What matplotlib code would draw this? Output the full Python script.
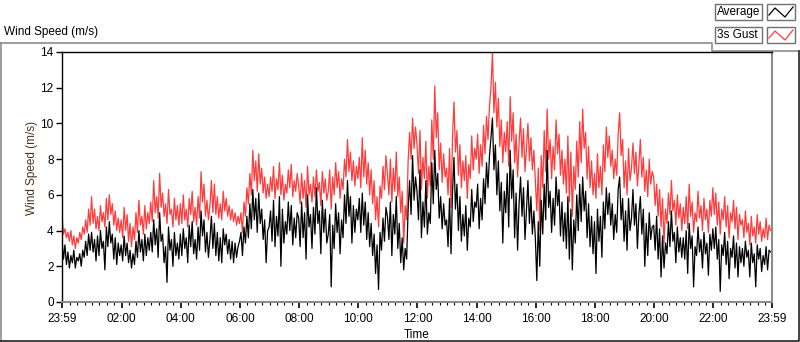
import numpy as np
import matplotlib
matplotlib.use("Agg")
import matplotlib.pyplot as plt
from matplotlib.lines import Line2D
from matplotlib.patches import Rectangle

# wind log, one sample every 3 minutes starting 23:59, 20 samples per hour
gust = [
    4.9, 3.8, 4.1, 3.6, 3.9, 3.4, 4.0, 3.2, 3.7, 3.0, 3.6, 3.3, 3.9, 3.5, 4.2, 3.8, 4.6, 3.9, 5.2, 4.3,
    5.9, 4.4, 5.2, 4.1, 4.8, 4.0, 5.4, 4.5, 5.0, 4.2, 5.8, 4.6, 6.0, 4.9, 5.5, 4.3, 5.1, 4.0, 4.7, 3.9,
    4.6, 3.6, 5.3, 4.0, 4.9, 3.4, 4.4, 3.1, 4.2, 3.5, 5.0, 3.9, 5.7, 4.3, 4.8, 3.8, 5.4, 4.1, 5.0, 4.4,
    5.6, 4.5, 6.8, 5.0, 5.9, 4.7, 7.2, 5.3, 6.1, 4.8, 5.5, 4.4, 6.3, 4.9, 5.2, 4.2, 5.8, 4.6, 5.4, 4.3,
    5.5, 4.4, 6.0, 4.6, 5.2, 4.2, 5.8, 4.9, 6.2, 4.5, 5.3, 4.3, 5.9, 4.7, 7.3, 5.6, 6.6, 4.8, 5.7, 4.6,
    5.4, 6.8, 5.0, 6.6, 4.9, 5.9, 4.7, 5.5, 4.6, 6.2, 5.1, 5.8, 4.8, 5.4, 4.6, 5.2, 4.5, 5.0, 4.3, 4.8,
    4.4, 5.0, 3.9, 5.6, 4.8, 6.4, 5.5, 7.2, 6.0, 8.5, 6.8, 7.9, 6.2, 8.3, 6.6, 7.5, 6.1, 7.0, 5.8, 6.6,
    5.9, 7.0, 6.2, 7.6, 5.8, 6.9, 6.3, 7.8, 6.0, 7.1, 5.7, 6.6, 6.1, 7.4, 6.4, 7.7, 5.9, 6.8, 6.2, 7.2,
    6.5, 5.5, 7.2, 5.8, 6.8, 5.3, 7.6, 6.0, 6.6, 5.6, 7.0, 5.9, 7.4, 6.2, 6.7, 5.4, 7.3, 6.1, 6.9, 5.7,
    6.2, 7.4, 5.2, 7.0, 6.0, 7.8, 6.4, 7.3, 5.8, 6.9, 6.3, 8.0, 7.0, 9.1, 7.3, 8.4, 6.8, 7.9, 6.5, 7.6,
    6.9, 8.1, 6.4, 9.2, 7.0, 8.5, 6.6, 7.8, 6.0, 7.4, 5.5, 6.8, 4.6, 5.9, 4.2, 6.5, 5.8, 7.6, 6.3, 8.2,
    7.2, 6.0, 8.0, 5.6, 7.5, 6.2, 8.4, 5.9, 7.0, 5.0, 6.2, 3.3, 5.4, 4.6, 7.9, 9.5, 8.0, 10.3, 8.6, 9.8,
    8.8, 7.2, 9.6, 6.3, 8.1, 6.9, 9.0, 5.8, 7.6, 6.5, 10.2, 8.0, 12.1, 9.2, 10.6, 7.4, 8.9, 6.7, 8.3, 7.0,
    7.5, 6.0, 8.6, 5.3, 9.2, 11.2, 8.4, 9.6, 7.1, 8.8, 6.4, 7.9, 6.8, 8.2, 5.8, 7.7, 6.9, 9.3, 7.4, 8.6,
    8.0, 9.4, 7.2, 8.8, 7.6, 9.9, 8.3, 10.4, 9.1, 11.0, 12.0, 14.0, 10.6, 12.3, 9.8, 11.4, 8.7, 10.2, 7.8, 9.5,
    8.4, 10.1, 7.6, 11.5, 9.0, 10.6, 7.8, 9.4, 7.0, 8.9, 10.3, 8.1, 9.7, 7.3, 8.6, 10.0, 7.9, 9.2, 7.4, 8.5,
    6.8, 5.1, 7.5, 4.0, 8.2, 6.4, 9.6, 7.3, 10.8, 8.0, 9.1, 6.9, 8.7, 7.4, 10.2, 8.3, 9.4, 7.1, 8.5, 6.6,
    8.0, 6.1, 9.3, 5.6, 8.4, 4.8, 7.6, 6.3, 9.0, 7.0, 10.1, 7.8, 10.8, 8.6, 9.5, 6.9, 8.7, 6.4, 7.9, 6.0,
    7.2, 5.8, 8.3, 6.4, 7.6, 6.0, 8.8, 7.3, 9.8, 8.1, 9.3, 7.6, 8.5, 6.9, 8.0, 7.1, 9.4, 10.6, 8.2, 9.1,
    6.4, 7.9, 6.0, 8.6, 6.8, 7.5, 8.9, 7.2, 8.4, 6.5, 7.7, 9.1, 7.0, 8.1, 6.2, 7.4, 5.9, 8.0, 6.6, 7.3,
    7.0, 5.4, 6.6, 4.8, 6.3, 4.2, 5.8, 3.3, 5.2, 4.4, 6.1, 4.9, 6.8, 5.1, 5.7, 4.3, 6.0, 4.7, 5.5, 4.0,
    5.3, 4.4, 5.9, 4.1, 6.6, 4.8, 5.6, 3.9, 5.0, 4.5, 6.2, 4.7, 5.4, 4.0, 5.8, 4.6, 5.2, 3.9, 5.7, 4.8,
    6.4, 4.9, 6.1, 4.3, 5.6, 3.8, 5.2, 4.6, 5.9, 4.2, 5.4, 3.6, 5.0, 4.5, 5.7, 4.1, 5.3, 3.5, 4.9, 4.3,
    4.6, 3.6, 5.1, 3.9, 4.4, 3.2, 4.8, 3.7, 4.2, 3.3, 4.9, 3.8, 4.5, 3.4, 4.1, 3.6, 4.7, 3.5, 4.3, 4.0,
]

average = [
    3.5, 2.4, 3.2, 2.1, 2.8, 1.9, 2.6, 2.2, 2.9, 1.9, 2.5, 2.3, 2.7, 2.0, 2.9, 2.5, 3.4, 2.6, 3.8, 2.9,
    3.9, 2.8, 3.5, 2.3, 3.7, 2.6, 4.0, 3.0, 3.4, 1.8, 4.2, 3.1, 4.5, 3.3, 3.8, 2.4, 3.6, 2.1, 3.3, 2.6,
    3.2, 2.3, 3.7, 2.6, 3.3, 2.2, 2.9, 1.9, 2.7, 2.1, 3.4, 2.5, 4.0, 2.8, 3.5, 2.3, 3.8, 2.6, 3.6, 2.9,
    3.9, 2.8, 4.6, 3.2, 4.1, 2.5, 5.0, 3.4, 3.8, 2.2, 3.1, 1.1, 4.2, 2.9, 3.5, 2.0, 3.9, 2.6, 3.3, 2.4,
    3.8, 2.6, 4.1, 3.0, 3.6, 2.2, 4.3, 3.1, 4.5, 2.7, 3.5, 2.4, 4.2, 2.9, 5.1, 3.7, 4.6, 2.8, 3.9, 2.5,
    3.5, 4.8, 3.0, 4.4, 2.6, 3.9, 2.3, 3.6, 2.2, 4.1, 3.2, 3.8, 2.7, 3.5, 2.4, 3.4, 2.2, 3.3, 2.5, 3.1,
    3.4, 3.9, 2.6, 4.2, 3.3, 4.8, 3.6, 5.5, 4.1, 6.3, 4.6, 5.8, 3.9, 6.1, 4.4, 5.2, 3.5, 4.6, 2.2, 4.0,
    4.2, 5.1, 3.4, 5.7, 3.1, 4.8, 3.7, 5.9, 2.0, 5.2, 3.3, 4.5, 3.8, 5.6, 4.0, 5.4, 3.2, 4.7, 3.6, 5.0,
    4.7, 3.1, 5.6, 3.6, 5.0, 2.4, 6.0, 4.2, 4.9, 3.0, 5.3, 3.8, 6.4, 4.4, 5.1, 2.7, 5.7, 3.9, 5.2, 3.3,
    3.8, 4.9, 0.85, 4.3, 3.0, 5.5, 3.9, 5.0, 2.7, 4.6, 3.6, 6.0, 4.4, 6.8, 4.8, 5.9, 3.3, 5.4, 3.9, 5.2,
    4.6, 5.8, 3.9, 6.1, 4.3, 5.6, 3.5, 5.0, 3.1, 4.4, 2.6, 3.8, 1.6, 3.2, 0.7, 3.9, 2.9, 4.7, 3.4, 5.3,
    4.8, 3.5, 5.6, 2.6, 4.9, 3.8, 5.9, 3.0, 4.4, 2.2, 3.6, 1.8, 3.0, 2.4, 5.2, 6.8, 4.9, 8.2, 5.7, 7.0,
    6.2, 4.6, 7.4, 3.6, 5.6, 4.2, 6.8, 3.8, 5.0, 4.4, 7.8, 5.5, 8.5, 6.3, 7.2, 4.7, 5.9, 4.1, 5.5, 4.3,
    4.6, 3.1, 5.8, 2.7, 6.1, 8.1, 5.2, 6.6, 4.0, 5.9, 3.4, 4.9, 3.7, 5.4, 2.9, 4.7, 4.2, 6.3, 4.5, 5.6,
    5.3, 6.6, 4.1, 5.8, 4.6, 6.9, 5.5, 7.8, 6.4, 8.2, 9.2, 10.3, 7.4, 8.8, 6.0, 7.9, 5.1, 6.7, 3.3, 6.2,
    5.0, 7.2, 4.2, 8.5, 5.8, 7.4, 3.6, 6.1, 2.9, 5.5, 7.0, 4.8, 6.4, 3.5, 5.2, 6.8, 4.4, 5.9, 3.8, 5.1,
    3.6, 1.2, 4.5, 2.0, 5.7, 3.8, 6.6, 4.6, 8.5, 5.3, 6.2, 3.9, 5.8, 4.3, 7.0, 5.4, 6.3, 3.7, 5.6, 3.4,
    5.0, 3.0, 5.9, 2.4, 5.2, 1.8, 4.6, 3.3, 6.0, 4.0, 6.6, 4.5, 7.0, 5.1, 6.2, 3.6, 5.5, 3.1, 4.8, 2.7,
    4.5, 1.6, 5.2, 3.4, 4.8, 2.5, 5.6, 4.1, 6.4, 4.9, 6.1, 4.3, 5.5, 3.5, 4.9, 3.9, 6.3, 7.0, 4.6, 5.8,
    3.4, 5.1, 2.9, 5.8, 4.0, 4.7, 6.3, 4.3, 5.5, 3.0, 4.9, 5.9, 3.8, 5.2, 2.0, 4.4, 2.6, 5.0, 3.5, 4.2,
    4.3, 2.9, 4.8, 2.4, 4.1, 1.4, 3.7, 1.9, 3.3, 2.7, 4.5, 3.1, 5.1, 3.4, 3.9, 2.2, 4.2, 2.8, 3.6, 2.5,
    3.6, 2.4, 4.0, 1.6, 4.4, 3.0, 3.7, 0.85, 3.1, 2.6, 4.2, 2.8, 3.5, 1.9, 3.9, 2.7, 3.3, 1.5, 3.8, 2.9,
    4.1, 3.0, 4.2, 2.4, 3.5, 0.6, 3.2, 2.6, 3.9, 2.1, 3.4, 1.3, 3.0, 2.5, 3.7, 1.9, 3.3, 1.4, 3.1, 2.2,
    3.0, 2.0, 3.4, 2.5, 2.9, 1.4, 3.3, 2.2, 2.7, 0.85, 3.2, 2.4, 3.0, 1.7, 2.6, 2.1, 3.1, 1.8, 2.9, 2.8,
]

tick_labels = ["23:59", "02:00", "04:00", "06:00", "08:00", "10:00", "12:00",
               "14:00", "16:00", "18:00", "20:00", "22:00", "23:59"]
y_ticks = [0, 2, 4, 6, 8, 10, 12, 14]

plt.rcParams['font.family'] = ['Liberation Sans', 'DejaVu Sans']

W, H = 800, 342
fig = plt.figure(figsize=(W / 100, H / 100), dpi=100)

# frame and legend drawn in pixel coordinates
bg = fig.add_axes([0, 0, 1, 1])
bg.set_xlim(0, W)
bg.set_ylim(H, 0)
bg.axis('off')
gray = '#8c8c8c'
bg.add_line(Line2D([0.5, 711.5, 711.5, 798], [42.5, 42.5, 50.5, 50.5], color=gray, lw=1.2))
bg.add_line(Line2D([0.5, 0.5], [42.5, 342], color=gray, lw=1.2))
bg.add_line(Line2D([0, 798.5, 798.5], [341.3, 341.3, 50.5], color='#222222', lw=1.2))
bg.text(4, 32, "Wind Speed (m/s)", fontsize=8.5, va='center', ha='left')

for i, (name, col) in enumerate([("Average", "black"), ("3s Gust", "#ff3b3b")]):
    y0 = 4 + i * 23
    bg.add_patch(Rectangle((715, y0), 47, 16, facecolor='white', edgecolor='#707070', lw=1.0))
    bg.add_patch(Rectangle((767, y0), 28, 16, facecolor='white', edgecolor='#707070', lw=1.0))
    bg.text(717, y0 + 8.5, name, fontsize=8.5, va='center', ha='left')
    bg.add_line(Line2D([769, 775, 785, 793], [y0 + 11, y0 + 4, y0 + 13, y0 + 3], color=col, lw=0.9))

ax = fig.add_axes([62 / W, 40 / H, 710 / W, 250 / H])
ax.set_facecolor('white')

minutes = np.arange(len(average)) * 3 - 1
ax.plot(minutes, gust, color='#ff3b3b', lw=0.9)
ax.plot(minutes, average, color='black', lw=0.9)

ax.set_xlim(-1, 1439)
ax.set_ylim(0, 14)

major = [-1] + list(range(120, 1440, 120)) + [1439]
minor = [m for m in range(15, 1440, 15) if m % 120 != 0]
ax.set_xticks(major)
ax.set_xticklabels(tick_labels, fontsize=8.5)
ax.set_xticks(minor, minor=True)
ax.set_yticks(y_ticks)
ax.set_yticklabels([str(v) for v in y_ticks], fontsize=8.5)
ax.tick_params(axis='x', which='major', length=4, width=1.2, pad=4)
ax.tick_params(axis='x', which='minor', length=2.5, width=0.8)
ax.tick_params(axis='y', length=4, width=1, pad=2)

for s in ['top', 'left']:
    ax.spines[s].set_color('black')
    ax.spines[s].set_linewidth(1.0)
for s in ['bottom', 'right']:
    ax.spines[s].set_color('#8c8c8c')
    ax.spines[s].set_linewidth(1.5)

ax.set_xlabel("Time", fontsize=8.5, labelpad=3)
fig.text(32 / W, 1 - 168 / H, "Wind Speed (m/s)", rotation=90, fontsize=8.5,
         color='#4b3318', ha='center', va='center')

fig.savefig("out.png", dpi=100, facecolor='white')
